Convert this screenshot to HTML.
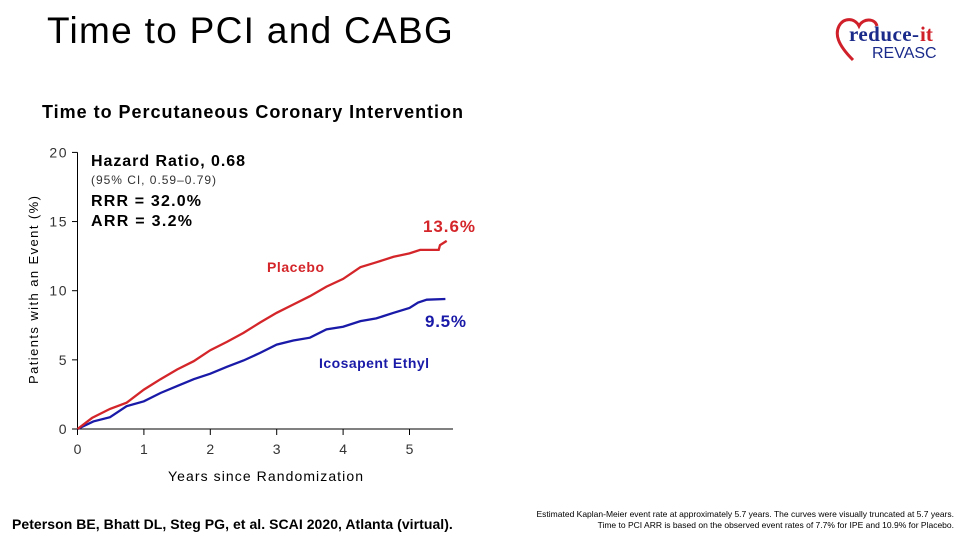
<!DOCTYPE html>
<html><head><meta charset="utf-8"><style>
body{margin:0;width:960px;height:540px;background:#fff;overflow:hidden;font-family:"Liberation Sans",sans-serif;position:relative}
.t{position:absolute;white-space:nowrap}
</style></head><body>
<div class="t" style="left:47px;top:10px;font-size:37px;color:#000;letter-spacing:1.3px">Time to PCI and CABG</div>
<div style="position:absolute;left:835px;top:14px;width:115px;height:50px">
<svg width="115" height="50"><path d="M18 46 C2 30 0 20 4 12 C9 3 20 4 24 12 C28 4 40 4 42 12" fill="none" stroke="#d0202a" stroke-width="3"/>
<text x="14" y="27" font-family="Liberation Serif" font-weight="bold" font-size="21" fill="#1a2a8a" textLength="70">reduce-</text><text x="85" y="27" font-family="Liberation Serif" font-weight="bold" font-size="21" fill="#d0202a">it</text>
<text x="37" y="44" font-family="Liberation Sans" font-size="16" fill="#1a2a8a">REVASC</text></svg></div>
<svg id="c" width="960" height="540" style="position:absolute;left:0;top:0"></svg>
<div class="t" style="left:12px;top:516px;font-size:14px;font-weight:bold;letter-spacing:0.05px">Peterson BE, Bhatt DL, Steg PG, et al. SCAI 2020, Atlanta (virtual).</div>
<div class="t" style="right:6px;top:509px;font-size:8.5px;text-align:right;line-height:11px">Estimated Kaplan-Meier event rate at approximately 5.7 years. The curves were visually truncated at 5.7 years.<br>Time to PCI ARR is based on the observed event rates of 7.7% for IPE and 10.9% for Placebo.</div>
<script>
const xTicks=[0,1,2,3,4,5];
const yTicks=[0,5,10,15,20];
const placeboX=[0,0.22,0.49,0.74,1.0,1.25,1.5,1.75,2.0,2.25,2.5,2.75,3.0,3.25,3.5,3.75,4.0,4.26,4.5,4.76,5.0,5.16,5.44,5.46,5.56];
const placeboY=[0,0.8,1.45,1.9,2.85,3.6,4.3,4.9,5.7,6.3,6.95,7.7,8.4,9.0,9.6,10.3,10.85,11.7,12.05,12.45,12.7,12.95,12.95,13.3,13.6];
const ipeX=[0,0.24,0.49,0.74,1.0,1.25,1.5,1.75,2.0,2.25,2.5,2.75,3.0,3.25,3.5,3.75,4.0,4.26,4.5,4.76,5.0,5.13,5.26,5.54];
const ipeY=[0,0.55,0.85,1.65,2.0,2.6,3.1,3.6,4.0,4.5,4.95,5.5,6.1,6.4,6.6,7.2,7.4,7.8,8.0,8.4,8.75,9.15,9.35,9.4];
const sx=v=>77.5+v*66.4, sy=v=>429-v*13.83;
const svg=document.getElementById('c'),NS='http://www.w3.org/2000/svg';
function mk(t,a,txt){const e=document.createElementNS(NS,t);for(const k in a)e.setAttribute(k,a[k]);if(txt!==undefined)e.textContent=txt;svg.appendChild(e);return e;}
let e=mk('line',{x1:77.5,y1:sy(20),x2:77.5,y2:429,stroke:'#000'});


e=mk('line',{x1:77.5,y1:429,x2:453,y2:429,stroke:'#000'});


yTicks.forEach(v=>{mk('line',{x1:72,x2:77.5,y1:sy(v),y2:sy(v),stroke:'#000'});
e=mk('text',{x:68,y:sy(v)+5,'text-anchor':'end','font-size':14,'letter-spacing':1.5,'font-family':'Liberation Sans',fill:'#333'},v);

});
xTicks.forEach(v=>{mk('line',{x1:sx(v),x2:sx(v),y1:429,y2:435,stroke:'#000'});
e=mk('text',{x:sx(v),y:454,'text-anchor':'middle','font-size':14,'font-family':'Liberation Sans',fill:'#333'},v);

});
function line(X,Y,c,n){let d='';X.forEach((x,i)=>{d+=(i?' L':'M')+sx(x).toFixed(1)+' '+sy(Y[i]).toFixed(1);});
const p=mk('path',{d:d,fill:'none',stroke:c,'stroke-width':2.3});

}
line(ipeX,ipeY,'#1a1aa8','icosapent-line');
line(placeboX,placeboY,'#d4262a','placebo-line');
const T=(x,y,s,txt,o,n)=>{const t=mk('text',Object.assign({x:x,y:y,'font-size':s,'font-family':'Liberation Sans'},o),txt);

};
T(42,118,18,'Time to Percutaneous Coronary Intervention',{'font-weight':'bold',textLength:421},'chart-title');
T(91,166,16,'Hazard Ratio, 0.68',{'font-weight':'bold',textLength:154},'hazard-ratio');
T(91,184,12,'(95% CI, 0.59–0.79)',{fill:'#333',textLength:125},'ci-text');
T(91,206,16,'RRR = 32.0%',{'font-weight':'bold',textLength:110},'rrr-text');
T(91,226,16,'ARR = 3.2%',{'font-weight':'bold',textLength:101},'arr-text');
T(423,232,17,'13.6%',{'font-weight':'bold',fill:'#d4262a',textLength:52},'placebo-end-label');
T(425,327,17,'9.5%',{'font-weight':'bold',fill:'#1a1aa8',textLength:41},'ipe-end-label');
T(267,272,14,'Placebo',{fill:'#d4262a','font-weight':'bold',textLength:57},'placebo-label');
T(319,368,14,'Icosapent Ethyl',{fill:'#1a1aa8','font-weight':'bold',textLength:110},'ipe-label');
T(168,481,14,'Years since Randomization',{textLength:195},'x-axis-title');
T(0,0,13,'Patients with an Event (%)',{transform:'translate(38,384) rotate(-90)',textLength:188},'y-axis-title');
</script>
</body></html>
